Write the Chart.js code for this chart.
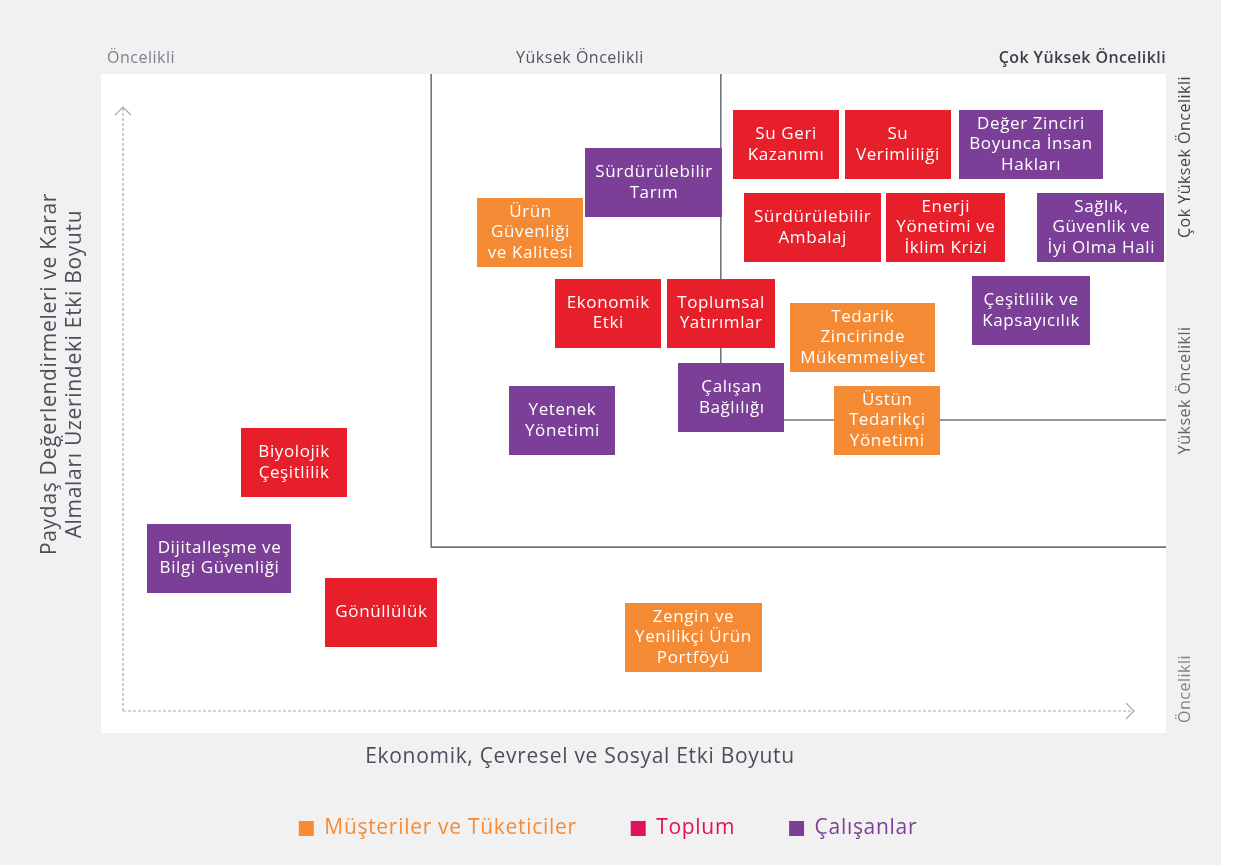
<!DOCTYPE html>
<html>
<head>
<meta charset="utf-8">
<script src="https://cdn.jsdelivr.net/npm/chart.js@4"></script>
<style>
  html, body { margin: 0; padding: 0; background: #fff; }
</style>
</head>
<body>
<canvas id="matrix" width="1233" height="865"></canvas>
<script>
// stakeholder groups (legend)
const groups = ['Müşteriler ve Tüketiciler', 'Toplum', 'Çalışanlar'];

// material topics, one entry per box
const topics = [
    ['Su Geri', 'Kazanımı'],
    ['Su', 'Verimliliği'],
    ['Değer Zinciri', 'Boyunca İnsan', 'Hakları'],
    ['Sürdürülebilir', 'Tarım'],
    ['Ürün', 'Güvenliği', 've Kalitesi'],
    ['Sürdürülebilir', 'Ambalaj'],
    ['Enerji', 'Yönetimi ve', 'İklim Krizi'],
    ['Sağlık,', 'Güvenlik ve', 'İyi Olma Hali'],
    ['Ekonomik', 'Etki'],
    ['Toplumsal', 'Yatırımlar'],
    ['Tedarik', 'Zincirinde', 'Mükemmeliyet'],
    ['Çeşitlilik ve', 'Kapsayıcılık'],
    ['Çalışan', 'Bağlılığı'],
    ['Yetenek', 'Yönetimi'],
    ['Üstün', 'Tedarikçi', 'Yönetimi'],
    ['Biyolojik', 'Çeşitlilik'],
    ['Dijitalleşme ve', 'Bilgi Güvenliği'],
    ['Gönüllülük'],
    ['Zengin ve', 'Yenilikçi Ürün', 'Portföyü']
];
// economic / environmental / social impact (x)
const impact = [6.43, 7.48, 8.73, 5.19, 4.03, 6.68, 7.93, 9.39, 4.76, 5.82, 7.15, 8.73, 5.92, 4.33, 7.38, 1.81, 1.11, 2.63, 5.56];
// impact on stakeholder assessments and decisions (y)
const stakeholder = [8.93, 8.93, 8.93, 8.35, 7.60, 7.67, 7.67, 7.67, 6.37, 6.37, 6.00, 6.41, 5.09, 4.74, 4.74, 4.10, 2.65, 1.83, 1.45];
// index into groups
const topicGroup = [1, 1, 2, 2, 0, 1, 1, 2, 1, 1, 0, 2, 2, 2, 0, 1, 2, 1, 0];

// priority thresholds
const thresholdsX = [3.10, 5.82];
const thresholdsY = [2.82, 4.75];

const xPriorityLabels = ['Öncelikli', 'Yüksek Öncelikli', 'Çok Yüksek Öncelikli'];
const yPriorityLabels = ['Öncelikli', 'Yüksek Öncelikli', 'Çok Yüksek Öncelikli'];
const xTitle = 'Ekonomik, Çevresel ve Sosyal Etki Boyutu';
const yTitle = ['Paydaş Değerlendirmeleri ve Karar', 'Almaları Üzerindeki Etki Boyutu'];

const boxColors = ['#f58a34', '#e61f2b', '#7c3f97'];
const legendColors = ['#f68b33', '#e0115f', '#7c3f97'];
const FONT = '"Open Sans", sans-serif';

const datasets = groups.map((g, gi) => {
    const idx = topics.map((t, i) => i).filter(i => topicGroup[i] === gi);
    return {
        label: g,
        data: idx.map(i => ({ x: impact[i], y: stakeholder[i] })),
        topicLines: idx.map(i => topics[i]),
        backgroundColor: boxColors[gi],
        pointRadius: 0,
        pointHoverRadius: 0
    };
});

function text(ctx, str, x, y, opts) {
    ctx.save();
    ctx.font = (opts.weight || 400) + ' ' + opts.size + 'px ' + FONT;
    ctx.letterSpacing = (opts.ls || 0) + 'px';
    ctx.fillStyle = opts.color;
    ctx.textAlign = opts.align || 'center';
    ctx.textBaseline = 'middle';
    ctx.translate(x, y);
    if (opts.rotate) ctx.rotate(opts.rotate);
    ctx.fillText(str, 0, 0);
    ctx.restore();
}

const matrixPlugin = {
    id: 'matrix',
    afterInit(chart) {
        // the original typeface is wider, open the letters up a little
        chart.ctx.letterSpacing = '0.7px';
    },
    beforeDraw(chart) {
        const { ctx, chartArea: a, width, height } = chart;
        ctx.save();
        ctx.fillStyle = '#ffffff';
        ctx.fillRect(0, 0, width, height);
        ctx.fillStyle = '#f1f1f1';
        ctx.fillRect(0, 0, 1221, height);
        ctx.fillStyle = '#ffffff';
        ctx.fillRect(a.left, a.top, a.right - a.left, a.bottom - a.top);
        ctx.restore();
    },
    beforeDatasetsDraw(chart) {
        const { ctx, chartArea: a, scales: { x, y } } = chart;
        const x1 = x.getPixelForValue(thresholdsX[0]);
        const x2 = x.getPixelForValue(thresholdsX[1]);
        const y1 = y.getPixelForValue(thresholdsY[0]);
        const y2 = y.getPixelForValue(thresholdsY[1]);

        ctx.save();
        // quadrant steps
        ctx.strokeStyle = '#70747c';
        ctx.lineWidth = 1.6;
        ctx.beginPath();
        ctx.moveTo(x1, a.top); ctx.lineTo(x1, y1); ctx.lineTo(a.right, y1);
        ctx.moveTo(x2, a.top); ctx.lineTo(x2, y2); ctx.lineTo(a.right, y2);
        ctx.stroke();

        // dashed axis arrows
        const ox = a.left + 22, oy = a.bottom - 22;
        const topY = a.top + 33, rightX = a.right - 32;
        ctx.strokeStyle = '#a8aaaf';
        ctx.lineWidth = 1.2;
        ctx.setLineDash([3, 2]);
        ctx.beginPath();
        ctx.moveTo(ox, oy); ctx.lineTo(ox, topY);
        ctx.moveTo(ox, oy); ctx.lineTo(rightX, oy);
        ctx.stroke();
        ctx.setLineDash([]);
        ctx.beginPath();
        ctx.moveTo(ox - 8, topY + 8); ctx.lineTo(ox, topY); ctx.lineTo(ox + 8, topY + 8);
        ctx.moveTo(rightX - 8, oy - 8); ctx.lineTo(rightX, oy); ctx.lineTo(rightX - 8, oy + 8);
        ctx.stroke();
        ctx.restore();

        // priority labels along top
        const ty = a.top - 16;
        text(ctx, xPriorityLabels[0], a.left + 6, ty, { size: 16, ls: 0.5, color: '#7b808a', align: 'left' });
        text(ctx, xPriorityLabels[1], (x1 + x2) / 2 + 4, ty, { size: 16, ls: 0.5, color: '#4e5361' });
        text(ctx, xPriorityLabels[2], a.right, ty, { size: 16, ls: 0.4, color: '#3b3f4a', align: 'right', weight: 600 });

        // priority labels along right side
        const rx = a.right + 19;
        const h = a.bottom - a.top;
        text(ctx, yPriorityLabels[0], rx, a.bottom - 10, { size: 16, ls: 0.5, color: '#7f838c', align: 'left', rotate: -Math.PI / 2 });
        text(ctx, yPriorityLabels[1], rx, a.top + h * 0.48, { size: 16, ls: 0.5, color: '#5f6370', rotate: -Math.PI / 2 });
        text(ctx, yPriorityLabels[2], rx, a.top + 2, { size: 16, ls: 0.5, color: '#3f4350', align: 'right', rotate: -Math.PI / 2 });

        // axis titles
        text(ctx, xTitle, a.left + 479, a.bottom + 24, { size: 21, ls: 0.7, color: '#4a4f5c' });
        text(ctx, yTitle[0], a.left - 51, a.top + 300, { size: 21, ls: 0.7, color: '#4a4f5c', rotate: -Math.PI / 2 });
        text(ctx, yTitle[1], a.left - 26, a.top + 300, { size: 21, ls: 0.7, color: '#4a4f5c', rotate: -Math.PI / 2 });
    },
    afterDatasetsDraw(chart) {
        const { ctx } = chart;
        const size = 17, lineH = 20.5, boxH = 69;
        ctx.save();
        ctx.font = size + 'px ' + FONT;
        ctx.letterSpacing = '0.6px';
        ctx.textAlign = 'center';
        ctx.textBaseline = 'middle';
        chart.data.datasets.forEach((ds, di) => {
            const meta = chart.getDatasetMeta(di);
            meta.data.forEach((pt, i) => {
                const lines = ds.topicLines[i];
                const tw = Math.max(...lines.map(l => ctx.measureText(l).width));
                const w = Math.max(106, tw + 20);
                ctx.fillStyle = ds.backgroundColor;
                ctx.fillRect(Math.round(pt.x - w / 2), Math.round(pt.y - boxH / 2), Math.round(w), boxH);
                ctx.fillStyle = '#ffffff';
                const y0 = pt.y - (lines.length - 1) * lineH / 2;
                lines.forEach((l, k) => ctx.fillText(l, pt.x + 0.3, y0 + k * lineH));
            });
        });
        ctx.restore();
    }
};

const hiddenAxis = {
    type: 'linear',
    min: 0,
    max: 10,
    ticks: { display: false },
    grid: { display: false, drawTicks: false },
    border: { display: false }
};

new Chart(document.getElementById('matrix').getContext('2d'), {
    type: 'scatter',
    data: { datasets: datasets },
    options: {
        responsive: false,
        animation: false,
        events: [],
        layout: { padding: { left: 50, right: 67, top: 74, bottom: 16 } },
        scales: {
            x: Object.assign({}, hiddenAxis, { position: 'bottom', afterFit: s => { s.height = 31; } }),
            y: Object.assign({}, hiddenAxis, { position: 'left', afterFit: s => { s.width = 51; } })
        },
        plugins: {
            tooltip: { enabled: false },
            legend: {
                position: 'bottom',
                onClick: null,
                labels: {
                    boxWidth: 15,
                    boxHeight: 15,
                    padding: 54,
                    font: { family: FONT, size: 21 },
                    generateLabels: () => groups.map((g, i) => ({
                        text: g,
                        fillStyle: legendColors[i],
                        strokeStyle: legendColors[i],
                        lineWidth: 0,
                        fontColor: legendColors[i],
                        hidden: false,
                        datasetIndex: i
                    }))
                }
            }
        }
    },
    plugins: [matrixPlugin]
});
</script>
</body>
</html>
